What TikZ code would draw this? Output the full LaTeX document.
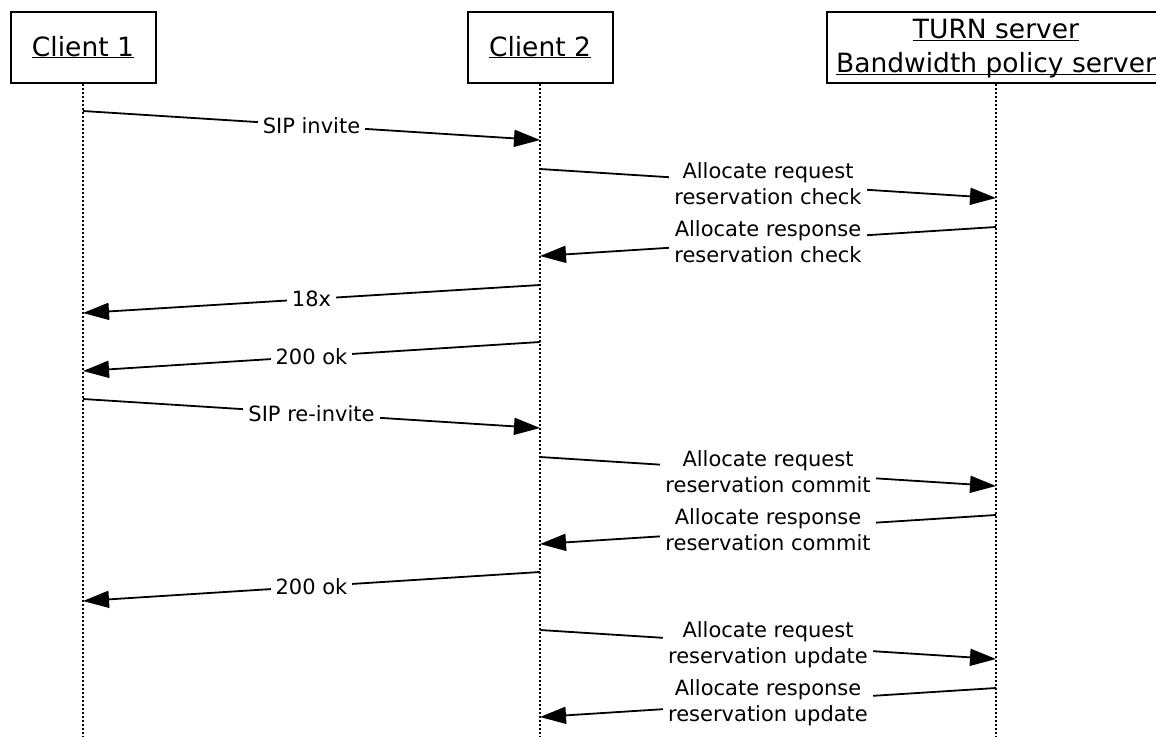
\documentclass[tikz,border=0pt]{standalone}
\usepackage{fontspec}
\setmainfont{DejaVu Sans}
\usetikzlibrary{arrows.meta}
\newcommand{\ulx}[1]{\underline{\raisebox{0pt}[\height][0pt]{#1}}}
\begin{document}
\begin{tikzpicture}[x=1pt,y=-1pt,
  actor/.style={draw, line width=2pt, minimum height=71pt, inner sep=0pt, align=center,
    font=\fontsize{26.5}{34}\selectfont, anchor=north},
  life/.style={line width=1.6pt, dash pattern=on 2pt off 2pt},
  msg/.style={line width=1.8pt, -{Triangle[length=26pt,width=17pt]}},
  lbl/.style={fill=white, inner xsep=5pt, inner ysep=1pt, align=center,
    font=\fontsize{21}{26}\selectfont}]
\useasboundingbox (0,0) rectangle (1156,736);
\clip (0,0) rectangle (1156,736);
\fill[white] (0,0) rectangle (1156,736);

% actors
\node[actor, minimum width=145pt] (c1) at (83,10.7) {\ulx{Client 1}};
\node[actor, minimum width=145pt] (c2) at (540,10.7) {\ulx{Client 2}};
\node[actor, minimum width=338pt] (ts) at (996,10.7) {\ulx{TURN server}\\\ulx{Bandwidth policy server}};

% lifelines
\coordinate (c1e) at (83,736);
\coordinate (c2e) at (540,736);
\coordinate (tse) at (996,736);
\draw[life] (c1.south) -- (c1e);
\draw[life] (c2.south) -- (c2e);
\draw[life] (ts.south) -- (tse);

% message end points
\coordinate (m1s) at (83,111);   \coordinate (m1e) at (540,140);
\coordinate (m2s) at (540,169);  \coordinate (m2e) at (996,198);
\coordinate (m3s) at (996,227);  \coordinate (m3e) at (540,256);
\coordinate (m4s) at (540,285);  \coordinate (m4e) at (83,313);
\coordinate (m5s) at (540,342);  \coordinate (m5e) at (83,371);
\coordinate (m6s) at (83,399);   \coordinate (m6e) at (540,428);
\coordinate (m7s) at (540,457);  \coordinate (m7e) at (996,486);
\coordinate (m8s) at (996,515);  \coordinate (m8e) at (540,544);
\coordinate (m9s) at (540,572);  \coordinate (m9e) at (83,601);
\coordinate (m10s) at (540,630); \coordinate (m10e) at (996,659);
\coordinate (m11s) at (996,688); \coordinate (m11e) at (540,717);

% messages
\draw[msg] (m1s) -- node[lbl] (l1) {SIP invite} (m1e);
\draw[msg] (m2s) -- node[lbl] (l2) {Allocate request\\reservation check} (m2e);
\draw[msg] (m3s) -- node[lbl] (l3) {Allocate response\\reservation check} (m3e);
\draw[msg] (m4s) -- node[lbl] (l4) {18x} (m4e);
\draw[msg] (m5s) -- node[lbl] (l5) {200 ok} (m5e);
\draw[msg] (m6s) -- node[lbl] (l6) {SIP re-invite} (m6e);
\draw[msg] (m7s) -- node[lbl] (l7) {Allocate request\\reservation commit} (m7e);
\draw[msg] (m8s) -- node[lbl] (l8) {Allocate response\\reservation commit} (m8e);
\draw[msg] (m9s) -- node[lbl] (l9) {200 ok} (m9e);
\draw[msg] (m10s) -- node[lbl] (l10) {Allocate request\\reservation update} (m10e);
\draw[msg] (m11s) -- node[lbl] (l11) {Allocate response\\reservation update} (m11e);
\end{tikzpicture}
\end{document}
